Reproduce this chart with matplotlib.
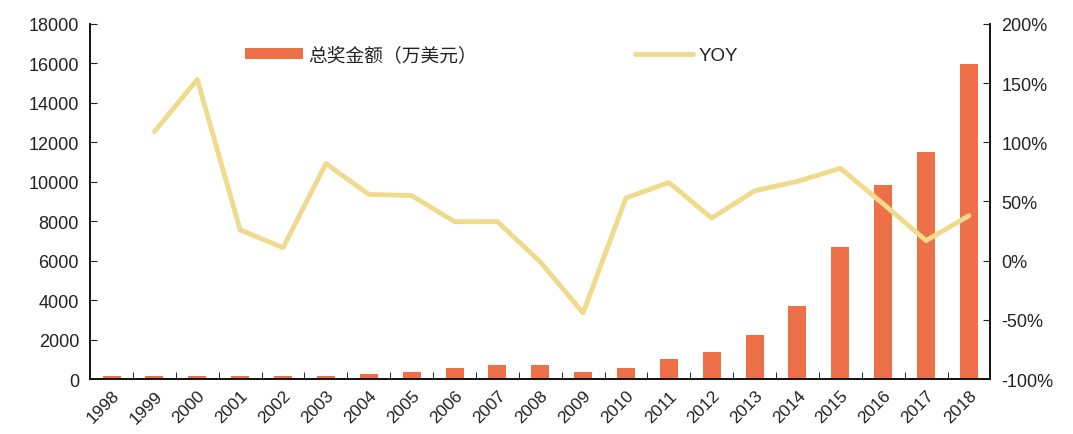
import numpy as np
import matplotlib.pyplot as plt

plt.rcParams['font.family'] = ['Liberation Sans', 'Noto Sans CJK SC', 'DejaVu Sans']

# data
years = [str(y) for y in range(1998, 2019)]
prize = [150, 150, 150, 150, 150, 150, 250, 370, 570, 710, 710,
         370, 570, 1010, 1380, 2250, 3700, 6690, 9840, 11510, 15970]
yoy = [np.nan, 109, 153, 26, 11, 82, 56, 55, 33, 33, -1,
       -44, 53, 66, 36, 59, 67, 78, 48, 17, 38]

bar_color = '#EE7049'
line_color = '#F0DA8C'
text_color = '#222222'

fig = plt.figure(figsize=(10.73, 4.35), dpi=100)
ax = fig.add_axes([0.084, 0.126, 0.839, 0.817])
ax2 = ax.twinx()

x = np.arange(len(years))
b = ax.bar(x, prize, width=0.42, color=bar_color, label='总奖金额（万美元）')
l, = ax2.plot(x, yoy, color=line_color, lw=3.5, solid_capstyle='round',
              label='YOY')

ax.set_xlim(-0.5, len(years) - 0.5)
ax.set_ylim(0, 18000)
ax.set_yticks(np.arange(0, 18001, 2000))
ax2.set_ylim(-100, 200)
ax2.set_yticks(np.arange(-100, 201, 50))
ax2.set_yticklabels([f'{v}%' for v in range(-100, 201, 50)])

# ticks on the category boundaries
ax.set_xticks(x + 0.5, minor=True)
ax.set_xticks(x)
ax.set_xticklabels(years, rotation=45, ha='right', rotation_mode='anchor')
ax.tick_params(axis='x', which='major', length=0, labelsize=12.5,
               colors=text_color, pad=6)
ax.tick_params(axis='x', which='minor', direction='in', length=5)
ax.tick_params(axis='y', direction='in', length=5, labelsize=13,
               colors=text_color, pad=8)
ax2.tick_params(axis='y', direction='in', length=5, labelsize=13,
                colors=text_color, pad=8)

for a in (ax, ax2):
    a.spines['top'].set_visible(False)
    for s in ('left', 'right', 'bottom'):
        a.spines[s].set_linewidth(1.2)
        a.spines[s].set_color('#111111')

leg = ax.legend([b, l], ['总奖金额（万美元）', 'YOY'], ncol=2, frameon=False,
                loc='upper left', bbox_to_anchor=(0.153, 0.985),
                handlelength=3.1, handleheight=0.55, handletextpad=0.3,
                columnspacing=8.4, fontsize=13.5, labelcolor=text_color)

fig.savefig('out.png', dpi=100)
